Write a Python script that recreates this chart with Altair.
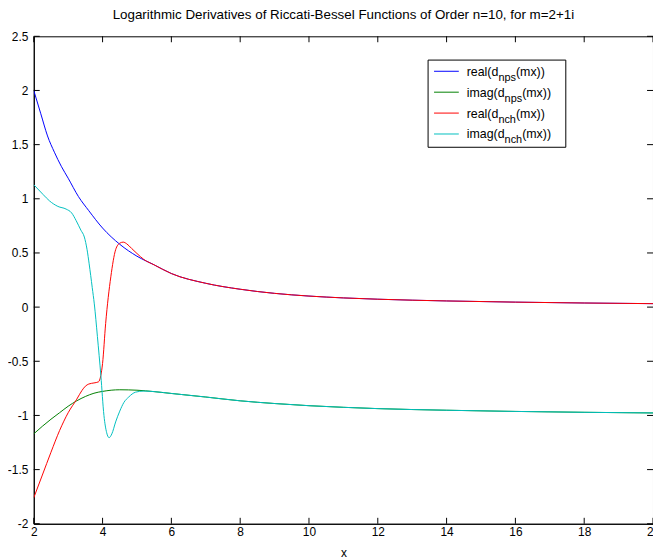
import altair as alt
import pandas as pd

TITLE = "Logarithmic Derivatives of Riccati-Bessel Functions of Order n=10, for m=2+1i"
FONT = "Liberation Sans"

# ---- data ----
x_real_nps = [2.0, 2.2, 2.4, 2.6, 2.8, 3.0, 3.3, 3.6, 4.0, 4.5, 5.0, 5.5, 6.0, 7.0, 8.0, 9.0,
              10.0, 11.0, 12.0, 14.0, 16.0, 18.0, 20.0]
y_real_nps = [2.0, 1.79, 1.58, 1.43, 1.30, 1.19, 1.02, 0.89, 0.73, 0.58, 0.47, 0.39, 0.31, 0.22,
              0.165, 0.127, 0.102, 0.085, 0.073, 0.057, 0.046, 0.038, 0.032]

x_imag_nps = [2.0, 2.25, 2.5, 2.75, 3.0, 3.25, 3.5, 3.75, 4.0, 4.5, 5.0, 5.5, 6.0, 7.0, 8.0, 9.0,
              10.0, 11.0, 12.0, 14.0, 16.0, 18.0, 20.0]
y_imag_nps = [-1.17, -1.10, -1.035, -0.975, -0.915, -0.865, -0.825, -0.795, -0.778, -0.763, -0.767,
              -0.78, -0.797, -0.83, -0.865, -0.89, -0.91, -0.925, -0.937, -0.952, -0.963, -0.971, -0.977]

x_real_nch = [2.0, 2.25, 2.5, 2.75, 3.0, 3.25, 3.4, 3.5, 3.6, 3.75, 3.88, 3.95, 4.0, 4.09, 4.24,
              4.38, 4.5, 4.6, 4.7, 4.85, 5.0, 5.2, 5.5, 6.0, 7.0, 8.0, 9.0, 10.0, 11.0, 12.0, 14.0,
              16.0, 18.0, 20.0]
y_real_nch = [-1.76, -1.55, -1.34, -1.14, -0.975, -0.85, -0.77, -0.73, -0.71, -0.70, -0.69, -0.63,
              -0.52, -0.15, 0.28, 0.53, 0.59, 0.60, 0.585, 0.54, 0.495, 0.44, 0.39, 0.31, 0.22,
              0.165, 0.127, 0.102, 0.085, 0.073, 0.057, 0.046, 0.038, 0.032]

x_imag_nch = [2.0, 2.27, 2.46, 2.7, 2.94, 3.1, 3.23, 3.37, 3.47, 3.55, 3.61, 3.7, 3.76, 3.85, 3.95,
              4.04, 4.12, 4.19, 4.27, 4.38, 4.5, 4.62, 4.76, 4.96, 5.2, 5.5, 6.0, 7.0, 8.0, 9.0,
              10.0, 11.0, 12.0, 14.0, 16.0, 18.0, 20.0]
y_imag_nch = [1.13, 1.04, 0.98, 0.93, 0.905, 0.87, 0.80, 0.71, 0.647, 0.53, 0.40, 0.18, 0.03, -0.27,
              -0.63, -1.0, -1.16, -1.205, -1.17, -1.06, -0.96, -0.88, -0.83, -0.785, -0.775, -0.78,
              -0.797, -0.83, -0.865, -0.89, -0.91, -0.925, -0.937, -0.952, -0.963, -0.971, -0.977]

x_ticks = [2, 4, 6, 8, 10, 12, 14, 16, 18, 20]
y_ticks = [-2, -1.5, -1, -0.5, 0, 0.5, 1, 1.5, 2, 2.5]

series_colors = ["#0000ff", "#008000", "#ff0000", "#00bfbf"]
legend_main = ["real(d", "imag(d", "real(d", "imag(d"]
legend_sub = ["nps", "nps", "nch", "nch"]
legend_tail = ["(mx))", "(mx))", "(mx))", "(mx))"]

# ---- layout ----
W, H = 625, 492
xscale = alt.Scale(domain=[2, 20], nice=False, zero=False)
yscale = alt.Scale(domain=[-2, 2.5], nice=False, zero=False)

HYPHEN_EXPR = "replace(datum.label, '\u2212', '-')"

xaxis = alt.Axis(values=x_ticks, title="x", ticks=False, labelPadding=3,
                 labelFlush=False, labelOverlap=False, format="~g",
                 domainColor="black", labelColor="black", labelFont=FONT,
                 labelFontSize=12, titleFont=FONT, titleFontSize=12, titleFontWeight="normal",
                 titleColor="black", titlePadding=10, grid=False)
yaxis = alt.Axis(values=y_ticks, title=None, ticks=False, labelPadding=6,
                 labelFlush=False, labelOverlap=False, format="~g", labelExpr=HYPHEN_EXPR,
                 domainColor="black", labelColor="black", labelFont=FONT,
                 labelFontSize=12, grid=False)

series = [(x_real_nps, y_real_nps), (x_imag_nps, y_imag_nps),
          (x_real_nch, y_real_nch), (x_imag_nch, y_imag_nch)]

layers = []
for i, ((xs, ys), col) in enumerate(zip(series, series_colors)):
    df = pd.DataFrame({"x": xs, "y": ys})
    layers.append(
        alt.Chart(df).mark_line(color=col, strokeWidth=1, interpolate="monotone", clip=True)
        .encode(x=alt.X("x:Q", scale=xscale, axis=xaxis),
                y=alt.Y("y:Q", scale=yscale, axis=yaxis))
    )

# inward tick marks on all four sides
xt = pd.DataFrame({"x": x_ticks})
yt = pd.DataFrame({"y": y_ticks})
TL = 6
for y0, y1 in [(H, H - TL), (0, TL)]:
    layers.append(alt.Chart(xt).mark_rule(color="black", strokeWidth=1).encode(
        x=alt.X("x:Q", scale=xscale, axis=xaxis), y=alt.value(y0), y2=alt.value(y1)))
for x0, x1 in [(0, TL), (W, W - TL)]:
    layers.append(alt.Chart(yt).mark_rule(color="black", strokeWidth=1).encode(
        y=alt.Y("y:Q", scale=yscale, axis=yaxis), x=alt.value(x0), x2=alt.value(x1)))

# legend box
one = pd.DataFrame({"k": [0]})
layers.append(alt.Chart(one).mark_rect(fill="white", stroke="black", strokeWidth=1).encode(
    x=alt.value(398), x2=alt.value(537), y=alt.value(24), y2=alt.value(112)))

AW = {"r": 333, "e": 556, "a": 556, "l": 222, "(": 333, ")": 333, "d": 556, "i": 222,
      "m": 833, "g": 556, "n": 556, "p": 556, "s": 500, "c": 500, "h": 556, "x": 500}


def tw(s, size):
    return sum(AW[c] for c in s) / 1000.0 * size


MAIN_FS, SUB_FS = 12.5, 11
for i in range(4):
    ly = 35.3 + i * 21.1
    layers.append(alt.Chart(one).mark_rule(color=series_colors[i], strokeWidth=1).encode(
        x=alt.value(404), x2=alt.value(429), y=alt.value(ly)))
    x0 = 437
    x1 = x0 + tw(legend_main[i], MAIN_FS)
    x2 = x1 + tw(legend_sub[i], SUB_FS)
    for txt, xx, yy, fs in [(legend_main[i], x0, ly + 4.5, MAIN_FS),
                            (legend_sub[i], x1, ly + 9.5, SUB_FS),
                            (legend_tail[i], x2, ly + 4.5, MAIN_FS)]:
        layers.append(alt.Chart(one).mark_text(align="left", baseline="alphabetic", font=FONT,
                                               fontSize=fs, color="black").encode(
            x=alt.value(xx), y=alt.value(yy), text=alt.value(txt)))

chart = alt.layer(*layers).properties(
    width=W, height=H,
    padding={"left": 26, "top": 26, "right": 0, "bottom": 34},
    autosize=alt.AutoSizeParams(type="none"),
    title=alt.TitleParams(TITLE, font=FONT, fontSize=13.5, fontWeight="normal", color="black",
                          anchor="middle", offset=9),
    background="white",
).configure_view(stroke="black", strokeWidth=1)

chart.save("out.html", embed_options={"renderer": "svg", "actions": False})
